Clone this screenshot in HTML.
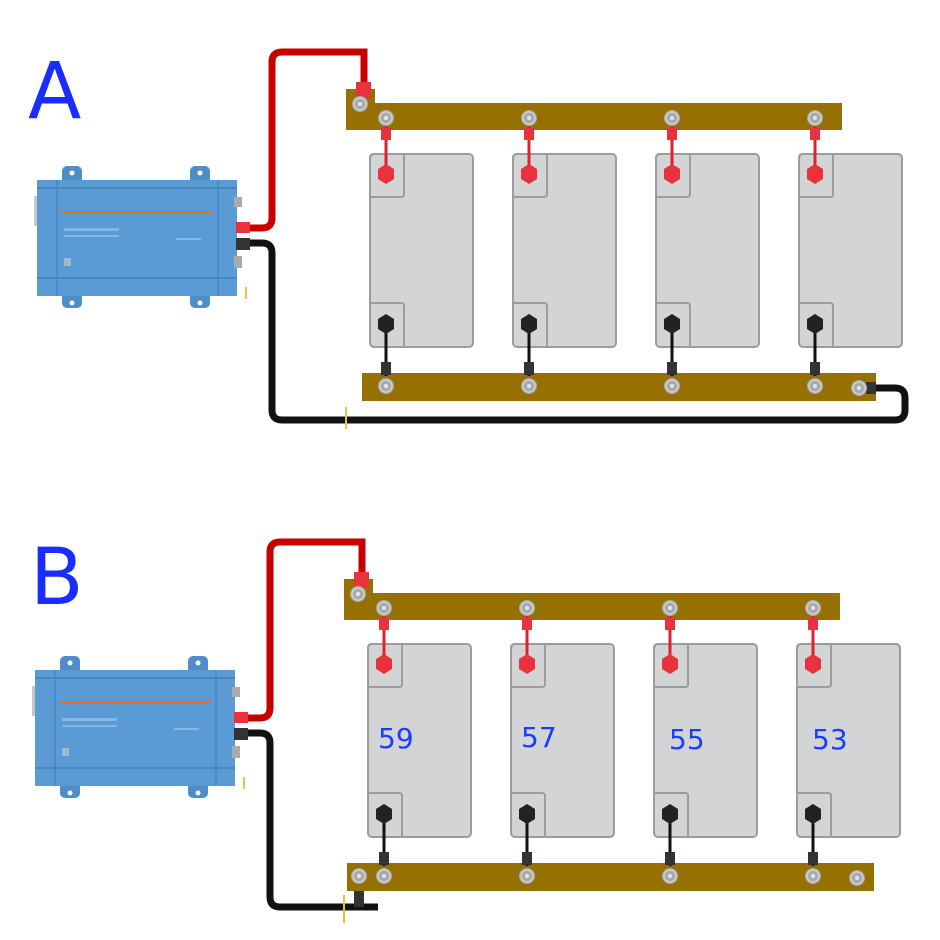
<!DOCTYPE html>
<html><head><meta charset="utf-8"><style>
html,body{margin:0;padding:0;background:#fff;width:940px;height:940px;overflow:hidden}
svg{display:block}
text{font-family:"DejaVu Sans","Liberation Sans",sans-serif}
</style></head><body>
<svg width="940" height="940" viewBox="0 0 940 940" xmlns="http://www.w3.org/2000/svg">
<defs>
<g id="bolt"><circle r="8" fill="#a9aaad"/><circle r="6" fill="none" stroke="#d0d0d2" stroke-width="1.5"/><circle r="2" fill="#e6e6e6"/></g>
<g id="bat">
  <rect x="0" y="0" width="103" height="193" rx="4" fill="#d3d4d6" stroke="#9b9c9e" stroke-width="2"/>
  <path d="M0 4 Q0 0 4 0 L34 0 L34 40 Q34 43 31 43 L0 43" fill="none" stroke="#9b9c9e" stroke-width="2"/>
  <path d="M0 149 L31 149 Q34 149 34 152 L34 193" fill="none" stroke="#9b9c9e" stroke-width="2"/>
  <line x1="16" y1="-30" x2="16" y2="20" stroke="#e02030" stroke-width="3"/>
  <rect x="11" y="-26" width="10" height="12" fill="#e8323c"/>
  <polygon points="16,10 24,15 24,25 16,30 8,25 8,15" fill="#e8323c"/>
  <line x1="16" y1="170" x2="16" y2="222" stroke="#111" stroke-width="3"/>
  <rect x="11" y="208" width="10" height="13" fill="#333"/>
  <polygon points="16,160 24,165 24,175 16,180 8,175 8,165" fill="#222"/>
</g>
<g id="inv">
  <rect x="62" y="166" width="20" height="20" rx="5" fill="#4f8dc9"/>
  <rect x="190" y="166" width="20" height="20" rx="5" fill="#4f8dc9"/>
  <rect x="62" y="290" width="20" height="18" rx="5" fill="#4f8dc9"/>
  <rect x="190" y="290" width="20" height="18" rx="5" fill="#4f8dc9"/>
  <circle cx="72" cy="173" r="2.5" fill="#fff"/><circle cx="200" cy="173" r="2.5" fill="#fff"/>
  <circle cx="72" cy="303" r="2.5" fill="#fff"/><circle cx="200" cy="303" r="2.5" fill="#fff"/>
  <rect x="34" y="196" width="8" height="30" fill="#c8c8c8"/>
  <rect x="37" y="180" width="200" height="116" fill="#5a9bd5"/>
  <line x1="37" y1="188" x2="237" y2="188" stroke="#4a85c0" stroke-width="2"/>
  <line x1="37" y1="278" x2="237" y2="278" stroke="#4a85c0" stroke-width="2"/>
  <line x1="57" y1="180" x2="57" y2="296" stroke="#4a85c0" stroke-width="1.5"/>
  <line x1="218" y1="180" x2="218" y2="296" stroke="#4a85c0" stroke-width="1.5"/>
  <rect x="60" y="211" width="153" height="3" fill="#e07030"/>
  <rect x="64" y="228" width="55" height="3" fill="#86b6e2"/>
  <rect x="64" y="235" width="55" height="2" fill="#86b6e2"/>
  <rect x="176" y="238" width="25" height="2" fill="#86b6e2"/>
  <rect x="64" y="258" width="7" height="8" fill="#a0b8cc"/>
  <rect x="234" y="197" width="8" height="10" fill="#aaa"/>
  <rect x="234" y="256" width="8" height="12" fill="#aaa"/>
</g>
</defs>

<!-- ===== A ===== -->
<text x="28" y="118" font-size="78" fill="#1a2cff">A</text>
<path d="M240 228 L262 228 Q272 228 272 218 L272 62 Q272 52 282 52 L364 52 L364 88" fill="none" stroke="#c80000" stroke-width="7"/>
<path d="M240 243 L262 243 Q272 243 272 253 L272 410 Q272 420 282 420 L895 420 Q905 420 905 410 L905 398 Q905 388 895 388 L868 388" fill="none" stroke="#111" stroke-width="7"/>
<use href="#inv"/>
<rect x="236" y="222" width="14" height="11" fill="#e8323c"/>
<rect x="236" y="238" width="14" height="12" fill="#333"/>
<rect x="245" y="287" width="2" height="12" fill="#f0c040"/>
<rect x="345" y="407" width="2" height="22" fill="#f0c040"/>
<rect x="346" y="89" width="29" height="41" fill="#967000"/>
<rect x="362" y="103" width="480" height="27" fill="#967000"/>
<rect x="356" y="82" width="15" height="16" fill="#e8323c"/>
<use href="#bolt" x="360" y="104"/>
<rect x="362" y="373" width="514" height="28" fill="#967000"/>
<rect x="866" y="382" width="10" height="12" fill="#333"/>
<use href="#bat" x="370" y="154"/>
<use href="#bat" x="513" y="154"/>
<use href="#bat" x="656" y="154"/>
<use href="#bat" x="799" y="154"/>
<use href="#bolt" x="386" y="118"/><use href="#bolt" x="529" y="118"/><use href="#bolt" x="672" y="118"/><use href="#bolt" x="815" y="118"/>
<use href="#bolt" x="386" y="386"/><use href="#bolt" x="529" y="386"/><use href="#bolt" x="672" y="386"/><use href="#bolt" x="815" y="386"/><use href="#bolt" x="859" y="388"/>

<!-- ===== B ===== -->
<text x="30" y="604" font-size="78" fill="#1a2cff">B</text>
<g transform="translate(-2,490)">
<path d="M240 228 L262 228 Q272 228 272 218 L272 62 Q272 52 282 52 L364 52 L364 88" fill="none" stroke="#c80000" stroke-width="7"/>
<path d="M240 243 L262 243 Q272 243 272 253 L272 407 Q272 417 282 417 L380 417" fill="none" stroke="#111" stroke-width="7"/>
<rect x="356" y="390" width="10" height="27" fill="#333"/>
<use href="#inv"/>
<rect x="236" y="222" width="14" height="11" fill="#e8323c"/>
<rect x="236" y="238" width="14" height="12" fill="#333"/>
<rect x="245" y="287" width="2" height="12" fill="#f0c040"/>
<rect x="345" y="405" width="2" height="28" fill="#f0c040"/>
<rect x="346" y="89" width="29" height="41" fill="#967000"/>
<rect x="362" y="103" width="480" height="27" fill="#967000"/>
<rect x="356" y="82" width="15" height="16" fill="#e8323c"/>
<use href="#bolt" x="360" y="104"/>
<rect x="349" y="373" width="527" height="28" fill="#967000"/>
<use href="#bat" x="370" y="154"/>
<use href="#bat" x="513" y="154"/>
<use href="#bat" x="656" y="154"/>
<use href="#bat" x="799" y="154"/>
<use href="#bolt" x="386" y="118"/><use href="#bolt" x="529" y="118"/><use href="#bolt" x="672" y="118"/><use href="#bolt" x="815" y="118"/>
<use href="#bolt" x="361" y="386"/><use href="#bolt" x="386" y="386"/><use href="#bolt" x="529" y="386"/><use href="#bolt" x="672" y="386"/><use href="#bolt" x="815" y="386"/><use href="#bolt" x="859" y="388"/>
</g>
<text x="378" y="748" font-size="28" fill="#1a3cff">59</text>
<text x="521" y="747" font-size="28" fill="#1a3cff">57</text>
<text x="669" y="749" font-size="28" fill="#1a3cff">55</text>
<text x="812" y="749" font-size="28" fill="#1a3cff">53</text>
</svg>
</body></html>
